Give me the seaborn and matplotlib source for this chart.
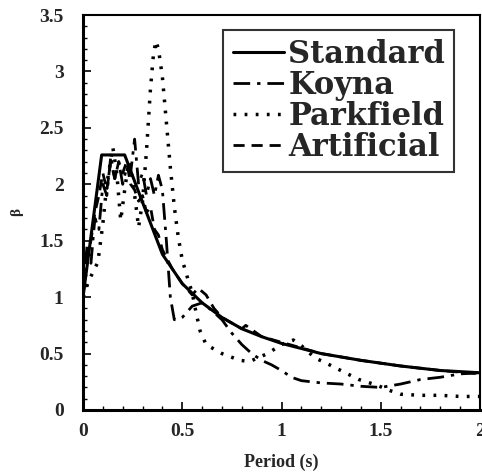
import matplotlib
matplotlib.use("Agg")
import matplotlib.pyplot as plt
import seaborn as sns
import pandas as pd
from matplotlib.ticker import MultipleLocator

# Standard design spectrum
std_T = [0.0, 0.094, 0.21, 0.30, 0.40, 0.50, 0.60, 0.70, 0.80, 0.90, 1.00, 1.20, 1.40, 1.60, 1.80, 2.00]
std_b = [1.0, 2.26, 2.26, 1.84, 1.38, 1.12, 0.95, 0.82, 0.72, 0.65, 0.59, 0.50, 0.44, 0.39, 0.35, 0.33]

# Koyna record
koy_T = [0.0, 0.02, 0.04, 0.06, 0.08, 0.10, 0.12, 0.14, 0.16, 0.18, 0.20, 0.22, 0.24, 0.26,
         0.28, 0.30, 0.32, 0.34, 0.36, 0.38, 0.40, 0.42, 0.44, 0.46, 0.48, 0.50, 0.55, 0.60,
         0.65, 0.70, 0.75, 0.80, 0.85, 0.90, 0.95, 1.00, 1.05, 1.10, 1.20, 1.30, 1.40, 1.50,
         1.60, 1.70, 1.80, 1.90, 2.00]
koy_b = [1.0, 1.45, 1.30, 1.70, 1.60, 2.00, 1.90, 2.25, 2.05, 2.20, 2.00, 2.15, 2.10, 2.40,
         2.00, 2.10, 1.90, 2.05, 1.90, 2.08, 1.95, 1.50, 1.00, 0.80, 0.80, 0.82, 0.92, 0.95,
         0.88, 0.80, 0.68, 0.58, 0.50, 0.44, 0.40, 0.35, 0.29, 0.26, 0.24, 0.23, 0.21, 0.20,
         0.23, 0.27, 0.29, 0.32, 0.33]

# Parkfield record
pk_T = [0.0, 0.03, 0.05, 0.075, 0.10, 0.12, 0.15, 0.17, 0.19, 0.21, 0.23, 0.25, 0.28, 0.30,
        0.32, 0.34, 0.355, 0.367, 0.38, 0.40, 0.42, 0.44, 0.46, 0.48, 0.50, 0.53, 0.55, 0.57,
        0.59, 0.62, 0.70, 0.79, 0.84, 0.93, 1.00, 1.06, 1.10, 1.17, 1.22, 1.31, 1.39, 1.48,
        1.55, 1.60, 1.70, 1.80, 1.90, 2.00]
pk_b = [1.0, 1.15, 1.22, 1.31, 1.65, 2.00, 2.33, 2.10, 1.68, 1.95, 2.20, 2.05, 1.62, 1.85,
        2.30, 2.85, 3.15, 3.27, 3.20, 2.95, 2.55, 2.15, 1.80, 1.53, 1.33, 1.15, 1.04, 0.86,
        0.70, 0.58, 0.50, 0.44, 0.43, 0.50, 0.58, 0.62, 0.57, 0.46, 0.42, 0.34, 0.27, 0.22,
        0.17, 0.14, 0.13, 0.13, 0.12, 0.12]

# Artificial record
art_T = [0.0, 0.02, 0.04, 0.06, 0.08, 0.10, 0.12, 0.14, 0.16, 0.18, 0.20, 0.22, 0.24, 0.26,
         0.28, 0.30, 0.32, 0.34, 0.36, 0.38, 0.40, 0.45, 0.50, 0.55, 0.58, 0.62, 0.66, 0.70,
         0.80, 0.82, 0.90, 1.00, 1.20, 1.40, 1.60, 1.80, 2.00]
art_b = [1.0, 1.35, 1.50, 1.75, 1.90, 2.10, 1.95, 2.20, 2.05, 2.20, 2.10, 2.20, 2.00, 1.95,
         1.85, 1.90, 1.75, 1.80, 1.60, 1.55, 1.42, 1.25, 1.12, 1.02, 1.08, 1.02, 0.90, 0.82,
         0.72, 0.75, 0.65, 0.60, 0.50, 0.44, 0.39, 0.35, 0.32]

sns.set_style("ticks")
plt.rcParams['font.family'] = ['Liberation Serif', 'DejaVu Serif']
plt.rcParams['font.weight'] = 'bold'

fig = plt.figure(figsize=(4.82, 4.76), dpi=100)
ax = fig.add_axes([83 / 482, 66 / 476, 397 / 482, 395 / 476])

series = [
    ("Standard", std_T, std_b, "-", 2.2),
    ("Koyna", koy_T, koy_b, (0, (6, 2.5, 1.2, 2.5)), 2.0),
    ("Parkfield", pk_T, pk_b, (0, (0.8, 2.4)), 2.5),
    ("Artificial", art_T, art_b, (0, (4, 2.5)), 2.0),
]
for name, t, b, ls, lw in series:
    df = pd.DataFrame({"Period": t, "beta": b})
    sns.lineplot(data=df, x="Period", y="beta", ax=ax, color="black",
                 linestyle=ls, linewidth=lw, label=name, sort=False)

ax.set_xlim(0, 2)
ax.set_ylim(0, 3.5)
ax.xaxis.set_major_locator(MultipleLocator(0.5))
ax.xaxis.set_minor_locator(MultipleLocator(0.1))
ax.yaxis.set_major_locator(MultipleLocator(0.5))
ax.yaxis.set_minor_locator(MultipleLocator(0.1))
ax.xaxis.set_major_formatter(plt.FuncFormatter(lambda v, p: f"{v:g}"))
ax.yaxis.set_major_formatter(plt.FuncFormatter(lambda v, p: f"{v:g}"))
ax.tick_params(which="both", direction="in", color="black")
ax.tick_params(which="major", length=6, width=1.2, labelsize=14)
ax.tick_params(axis="x", which="major", pad=9)
ax.tick_params(axis="y", which="major", pad=14)
ax.tick_params(which="minor", length=3, width=1.0)
for lab in ax.get_xticklabels() + ax.get_yticklabels():
    lab.set_fontweight("bold")

for side in ["left", "bottom"]:
    ax.spines[side].set_linewidth(2.2)
for side in ["top", "right"]:
    ax.spines[side].set_linewidth(1.5)
    ax.spines[side].set_visible(True)
for sp in ax.spines.values():
    sp.set_color("black")

ax.set_xlabel("Period (s)", fontsize=13, fontweight="bold")
ax.set_ylabel("β", fontsize=11, fontweight="bold")
ax.xaxis.set_label_coords(0.5, -0.11)
ax.yaxis.set_label_coords(-0.15, 0.5)

leg = ax.legend(loc="upper right", bbox_to_anchor=(0.935, 0.962), borderaxespad=0,
                fancybox=False, frameon=True, handlelength=1.7, handletextpad=0.12,
                labelspacing=0.0, borderpad=0.3,
                prop={"family": "DejaVu Serif", "weight": "bold", "size": 22})
leg.get_frame().set_edgecolor("black")
leg.get_frame().set_linewidth(1.5)

fig.savefig("out.png", dpi=100)
